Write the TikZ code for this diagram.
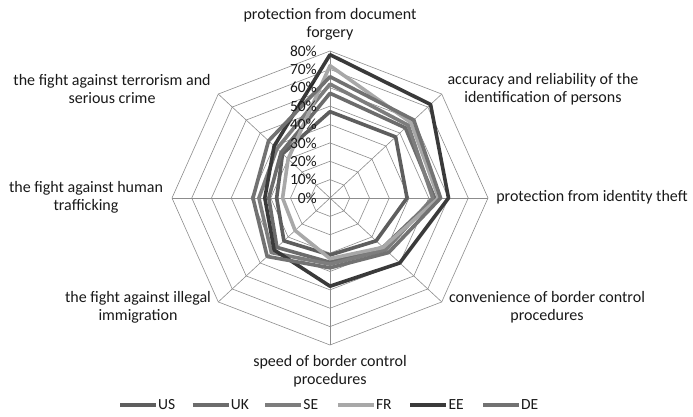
\documentclass[tikz,border=0pt]{standalone}
\usepackage{fontspec}
\setmainfont{Carlito}
\usetikzlibrary{positioning, calc}

\definecolor{gridgray}{HTML}{8C8C8C}
\definecolor{usgray}{HTML}{5E5E5E}
\definecolor{ukgray}{HTML}{6C6C6C}
\definecolor{segray}{HTML}{7D7D7D}
\definecolor{frgray}{HTML}{A8A8A8}
\definecolor{eegray}{HTML}{3A3A3A}
\definecolor{degray}{HTML}{727272}

\begin{document}
\begin{tikzpicture}[
    x=1pt, y=-1pt,
    grid/.style={draw=gridgray, line width=0.6pt},
    series/.style={line width=3.6pt, line join=round},
    axislabel/.style={font=\fontsize{16}{18}\selectfont, align=center, inner sep=0pt, text=black!90},
    tick/.style={font=\fontsize{15.5}{18}\selectfont, anchor=east, inner sep=0pt, text=black!90},
    legendtext/.style={font=\fontsize{15.5}{18}\selectfont, anchor=west, inner sep=0pt, text=black!90}
]
\useasboundingbox (0,0) rectangle (693,417);

% Radar grid and data
\begin{scope}[shift={(330,198)}, x=1.975pt, y=1.8375pt]
  % Rings
  \foreach \r in {10,20,...,80}
    \draw[grid] (0:\r) \foreach \a in {45,90,...,315} { -- (\a:\r) } -- cycle;
  % Spokes
  \foreach \a in {0,45,...,315}
    \draw[grid] (0,0) -- (\a:80);
  % Series
  \foreach \name/\col/\vals in {
      US/usgray/{47,47,39,33,31,33,27,34},
      UK/ukgray/{57,54,53,38,35,38,31,35},
      SE/segray/{62,56,52,40,36,42,36,38},
      FR/frgray/{72,58,55,38,33,25,24,30},
      EE/eegray/{78,72,60,50,48,40,33,40},
      DE/degray/{66,60,56,42,38,45,39,44}} {
    \foreach \v [count=\k from 0] in \vals
      \coordinate (\name-\k) at ({90-45*\k}:\v);
    \draw[series, draw=\col] (\name-0) -- (\name-1) -- (\name-2) -- (\name-3)
      -- (\name-4) -- (\name-5) -- (\name-6) -- (\name-7) -- cycle;
  }
  % Percent ticks
  \foreach \r in {0,10,...,80}
    \node[tick, xshift=-13pt] (tick\r) at (90:\r) {\r\%};
\end{scope}

% Axis labels
\node[axislabel] (forgery) at (330,24) {protection from document\\forgery};
\node[axislabel] (accuracy) at (543,89) {accuracy and reliability of the\\identification of persons};
\node[axislabel] (theft) at (592,197) {protection from identity theft};
\node[axislabel] (convenience) at (547,307) {convenience of border control\\procedures};
\node[axislabel] (speed) at (330,371) {speed of border control\\procedures};
\node[axislabel] (immigration) at (138,307) {the fight against illegal\\immigration};
\node[axislabel] (trafficking) at (86,197) {the fight against human\\trafficking};
\node[axislabel] (terrorism) at (112,89) {the fight against terrorism and\\serious crime};

% Legend
\foreach \name/\col [count=\i from 0] in {US/usgray, UK/ukgray, SE/segray, FR/frgray, EE/eegray, DE/degray} {
  \coordinate (leg\name) at ({120+72.6*\i},405);
  \draw[line width=3.8pt, draw=\col] (leg\name) -- ++(36,0) coordinate (legend\name);
  \node[legendtext, right=2pt of legend\name] (lab\name) {\name};
}
\end{tikzpicture}
\end{document}
